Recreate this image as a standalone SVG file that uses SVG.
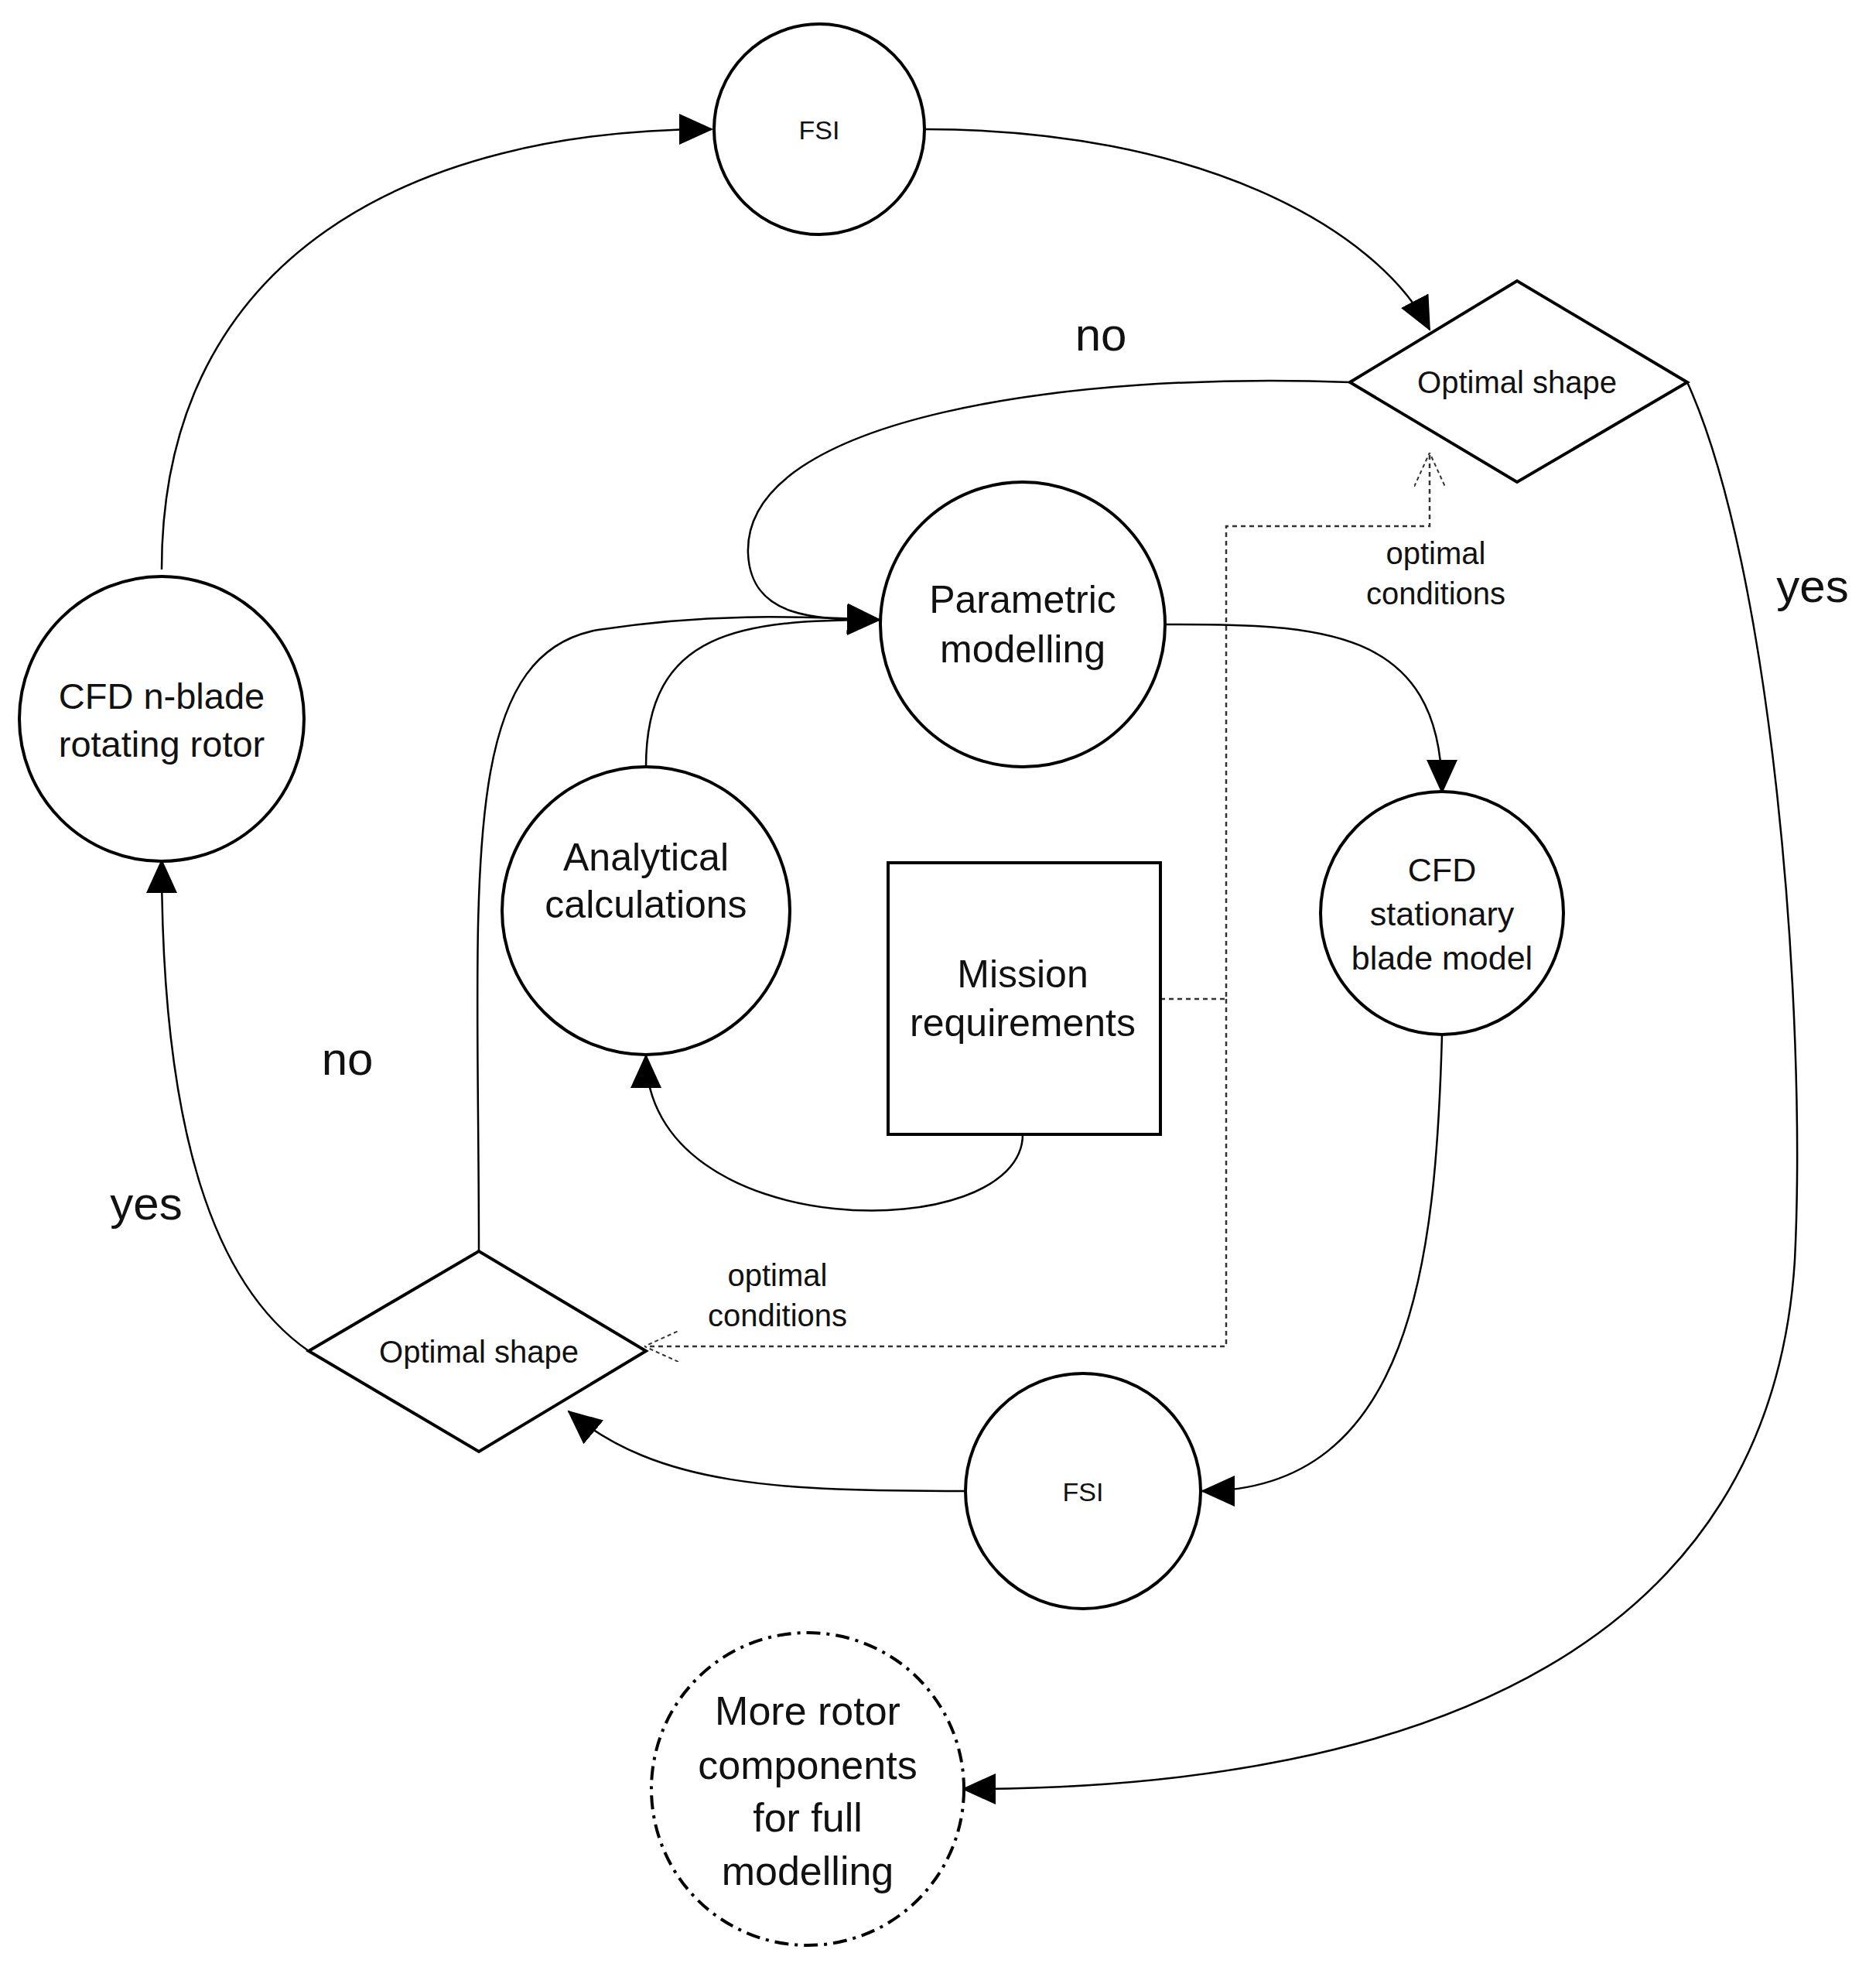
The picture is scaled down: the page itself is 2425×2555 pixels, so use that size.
<svg xmlns="http://www.w3.org/2000/svg" width="2425" height="2555" viewBox="0 0 2425 2555">
<defs>
<marker id="ah" markerUnits="userSpaceOnUse" markerWidth="44" markerHeight="40" refX="42" refY="20" orient="auto"><path d="M0,0 L44,20 L0,40 Z" fill="#000"/></marker>
<marker id="oh" markerUnits="userSpaceOnUse" markerWidth="44" markerHeight="40" refX="42" refY="20" orient="auto"><path d="M0,0 L44,20 L0,40" fill="none" stroke="#333" stroke-width="2" stroke-dasharray="5,4"/></marker>
</defs>
<style>
.n{fill:#fff;stroke:#000;stroke-width:4}
.c{fill:none;stroke:#000;stroke-width:2.5}
.d{fill:none;stroke:#333;stroke-width:2.5;stroke-dasharray:6,5}
text{font-family:"Liberation Sans",Arial,sans-serif;text-anchor:middle;fill:#111}
.t{font-size:50px}
.s{font-size:40px}
.l{font-size:60px}
</style>
<rect width="2425" height="2555" fill="#fff"/>
<g id="connectors">
<path class="c" d="M209,736 C209,326 541,167 920,167" marker-end="url(#ah)"/>
<path class="c" d="M1196,167 C1547,167 1779,293 1848,426" marker-end="url(#ah)"/>
<path class="c" d="M1745,494 C1392,480 959,537 967,716 C971,798 1052,801 1137,801" marker-end="url(#ah)"/>
<path class="c" d="M2181,494 C2290,733 2336,1303 2320,1629 C2289,2118 1856,2312 1245,2312" marker-end="url(#ah)"/>
<path class="c" d="M1508,807 C1700,807 1864,807 1864,1024" marker-end="url(#ah)"/>
<path class="c" d="M1864,1337 C1856,1629 1825,1927 1554,1927" marker-end="url(#ah)"/>
<path class="c" d="M1250,1927 C1005,1927 851,1921 735,1824" marker-end="url(#ah)"/>
<path class="c" d="M399,1746 C278,1662 209,1466 209,1112" marker-end="url(#ah)"/>
<path class="c" d="M619,1617 C619,1140 588,847 773,814 C928,790 1052,798 1137,801" marker-end="url(#ah)"/>
<path class="c" d="M835,991 C835,814 959,801 1137,801"/>
<path class="c" d="M1322,1466 C1322,1611 835,1611 835,1364" marker-end="url(#ah)"/>
<path class="d" d="M1500,1291 L1585,1291 L1585,680 L1848,680 L1848,587" marker-end="url(#oh)"/>
<path class="d" d="M1585,1291 L1585,1740 L835,1740" marker-end="url(#oh)"/>
</g>
<g id="fsi-top"><circle class="n" cx="1059" cy="167" r="136"/><text x="1059" y="180" style="font-size:34px">FSI</text></g>
<g id="opt-top"><polygon class="n" points="1745,494 1961,363 2181,494 1961,623"/><text class="s" x="1961" y="508">Optimal shape</text></g>
<g id="param"><circle class="n" cx="1322" cy="807" r="184"/><text class="t" x="1322" y="792">Parametric</text><text class="t" x="1322" y="856">modelling</text></g>
<g id="cfd-n"><circle class="n" cx="209" cy="929" r="184"/><text style="font-size:47px" x="209" y="916">CFD n-blade</text><text style="font-size:47px" x="209" y="978">rotating rotor</text></g>
<g id="analytical"><circle class="n" cx="835" cy="1177" r="186"/><text class="t" x="835" y="1125">Analytical</text><text class="t" x="835" y="1186">calculations</text></g>
<g id="mission"><rect class="n" x="1148" y="1115" width="352" height="351"/><text class="t" x="1322" y="1276">Mission</text><text class="t" x="1322" y="1339">requirements</text></g>
<g id="cfd-s"><circle class="n" cx="1864" cy="1180" r="157"/><text style="font-size:43px" x="1864" y="1139">CFD</text><text style="font-size:43px" x="1864" y="1196">stationary</text><text style="font-size:43px" x="1864" y="1253">blade model</text></g>
<g id="opt-bot"><polygon class="n" points="399,1746 619,1617 835,1746 619,1876"/><text class="s" x="619" y="1761">Optimal shape</text></g>
<g id="fsi-bot"><circle class="n" cx="1400" cy="1927" r="152"/><text x="1400" y="1940" style="font-size:34px">FSI</text></g>
<g id="more"><circle cx="1044" cy="2312" r="202" fill="#fff" stroke="#000" stroke-width="4" stroke-dasharray="18,8,4,8"/><text style="font-size:52px" x="1044" y="2229">More rotor</text><text style="font-size:52px" x="1044" y="2299">components</text><text style="font-size:52px" x="1044" y="2367">for full</text><text style="font-size:52px" x="1044" y="2436">modelling</text></g>
<g id="labels">
<text class="l" x="1423" y="453">no</text>
<text class="l" x="2343" y="778">yes</text>
<text class="l" x="449" y="1389">no</text>
<text class="l" x="189" y="1576">yes</text>
<text class="s" x="1856" y="729">optimal</text><text class="s" x="1856" y="781">conditions</text>
<text class="s" x="1005" y="1662">optimal</text><text class="s" x="1005" y="1714">conditions</text>
</g>
</svg>
